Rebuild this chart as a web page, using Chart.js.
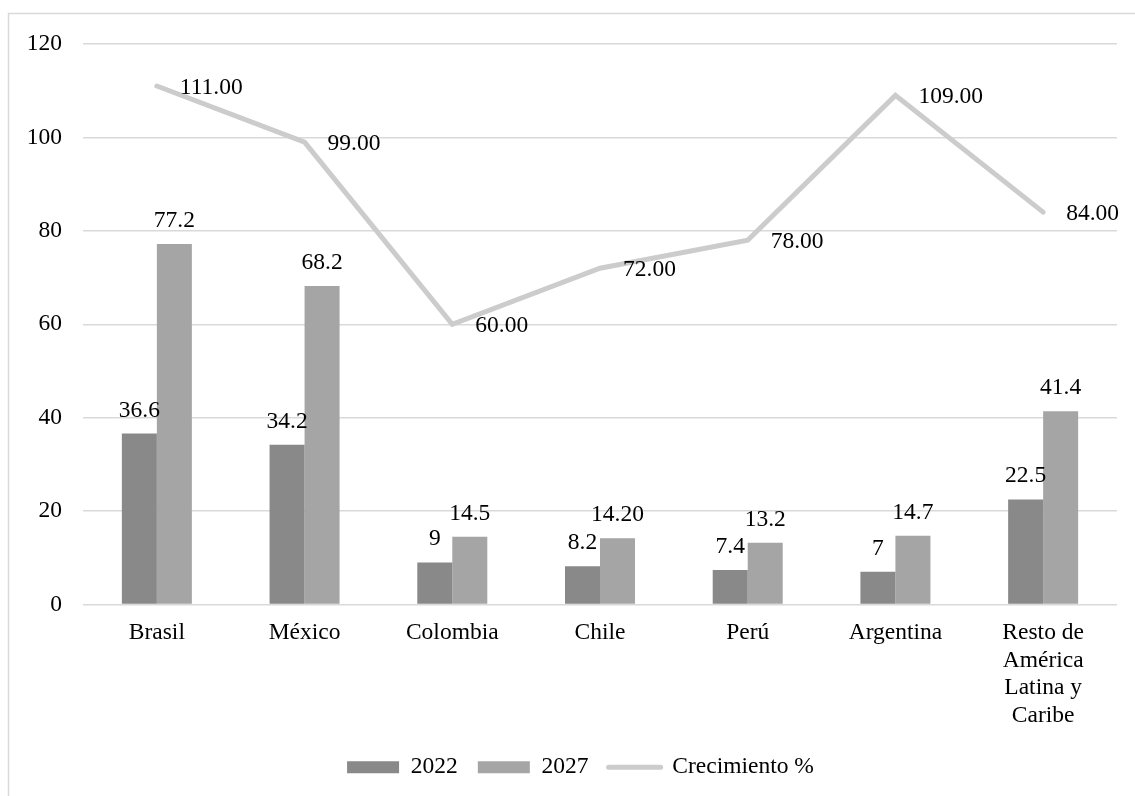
<!DOCTYPE html>
<html lang="es">
<head>
<meta charset="utf-8">
<title>Mercado 2022–2027 por país</title>
<script src="https://cdn.jsdelivr.net/npm/chart.js@4/dist/chart.umd.min.js"></script>
<style>
  html, body { margin: 0; padding: 0; background: #ffffff; }
  #wrap { position: relative; width: 1135px; height: 796px; }
  canvas { display: block; }
</style>
</head>
<body>
<div id="wrap"><canvas id="chart" width="1135" height="796"></canvas></div>
<script>
// Categories (multi-line labels as arrays)
const paises = [
  'Brasil', 'México', 'Colombia', 'Chile', 'Perú', 'Argentina',
  ['Resto de', 'América', 'Latina y', 'Caribe']
];

// Series values
const serie2022 = [36.6, 34.2, 9, 8.2, 7.4, 7, 22.5];
// Kept as printed text (Chart.js parses them as numbers)
const serie2027 = ['77.2', '68.2', '14.5', '14.20', '13.2', '14.7', '41.4'];
const crecimiento = [111, 99, 60, 72, 78, 109, 84];

// Y axis ticks
const yTicks = [0, 20, 40, 60, 80, 100, 120];

const FONT = "'Liberation Serif', 'Times New Roman', serif";
const FONT_SIZE = 23.5;
const GRID = '#d9d9d9';

// Outer frame around the chart
const framePlugin = {
  id: 'frame',
  beforeDraw(chart) {
    const ctx = chart.ctx;
    ctx.save();
    ctx.fillStyle = '#ffffff';
    ctx.fillRect(0, 0, chart.width, chart.height);
    ctx.strokeStyle = GRID;
    ctx.lineWidth = 1.5;
    ctx.strokeRect(8.5, 13.5, chart.width + 10, chart.height + 10);
    ctx.restore();
  }
};

// Nudge the legend row a little to the right of the canvas centre
const legendShift = {
  id: 'legendShift',
  afterLayout(chart) {
    const lg = chart.legend;
    if (lg) { lg.left += 22; lg.right += 22; }
  }
};

// Value labels for bars (above) and the line (to the right of each point)
const valueLabels = {
  id: 'valueLabels',
  afterDatasetsDraw(chart) {
    const ctx = chart.ctx;
    ctx.save();
    ctx.font = FONT_SIZE + 'px ' + FONT;
    ctx.fillStyle = '#000000';
    chart.data.datasets.forEach((ds, di) => {
      const meta = chart.getDatasetMeta(di);
      meta.data.forEach((el, i) => {
        const raw = ds.data[i];
        ctx.textBaseline = 'alphabetic';
        if (ds.type === 'line') {
          ctx.textAlign = 'left';
          ctx.fillText(Number(raw).toFixed(2), el.x + 23, el.y + 8);
        } else {
          ctx.textAlign = 'center';
          ctx.fillText(String(raw), el.x, el.y - 17);
        }
      });
    });
    ctx.restore();
  }
};

new Chart(document.getElementById('chart'), {
  data: {
    labels: paises,
    datasets: [
      {
        type: 'bar',
        label: '2022',
        data: serie2022,
        backgroundColor: '#898989',
        borderWidth: 0,
        order: 1,
        categoryPercentage: 0.474,
        barPercentage: 1.0
      },
      {
        type: 'bar',
        label: '2027',
        data: serie2027,
        backgroundColor: '#a5a5a5',
        borderWidth: 0,
        order: 1,
        categoryPercentage: 0.474,
        barPercentage: 1.0
      },
      {
        type: 'line',
        label: 'Crecimiento %',
        data: crecimiento,
        borderColor: '#cccccc',
        backgroundColor: '#cccccc',
        borderWidth: 5,
        borderCapStyle: 'round',
        borderJoinStyle: 'miter',
        pointRadius: 0,
        pointHoverRadius: 0,
        tension: 0,
        fill: false,
        order: 0
      }
    ]
  },
  options: {
    responsive: false,
    animation: false,
    devicePixelRatio: 1,
    layout: { padding: { left: 0, right: 18, top: 44, bottom: 7 } },
    plugins: {
      tooltip: { enabled: false },
      legend: {
        position: 'bottom',
        labels: {
          usePointStyle: true,
          pointStyleWidth: 52,
          boxHeight: 12,
          padding: 20,
          color: '#000000',
          font: { family: FONT, size: FONT_SIZE },
          generateLabels(chart) {
            return chart.data.datasets.map((ds, i) => ({
              text: ds.label,
              datasetIndex: i,
              fillStyle: ds.type === 'line' ? ds.borderColor : ds.backgroundColor,
              strokeStyle: ds.type === 'line' ? ds.borderColor : ds.backgroundColor,
              lineWidth: ds.type === 'line' ? 5 : 0,
              lineCap: 'round',
              pointStyle: ds.type === 'line' ? 'line' : 'rect',
              hidden: false,
              fontColor: '#000000'
            }));
          }
        }
      }
    },
    scales: {
      x: {
        grid: { display: false, drawTicks: false },
        border: { display: false },
        ticks: {
          color: '#000000',
          font: { family: FONT, size: FONT_SIZE, lineHeight: 1.17 },
          padding: 15,
          maxRotation: 0,
          autoSkip: false
        },
        afterFit(scale) { scale.height = 131; }
      },
      y: {
        min: 0,
        max: 120,
        afterBuildTicks(scale) { scale.ticks = yTicks.map(v => ({ value: v })); },
        grid: { color: GRID, lineWidth: 1.5, drawTicks: false },
        border: { display: false },
        ticks: {
          color: '#000000',
          font: { family: FONT, size: FONT_SIZE },
          padding: 21
        },
        afterFit(scale) { scale.width = 83; }
      }
    }
  },
  plugins: [framePlugin, legendShift, valueLabels]
});
</script>
</body>
</html>
